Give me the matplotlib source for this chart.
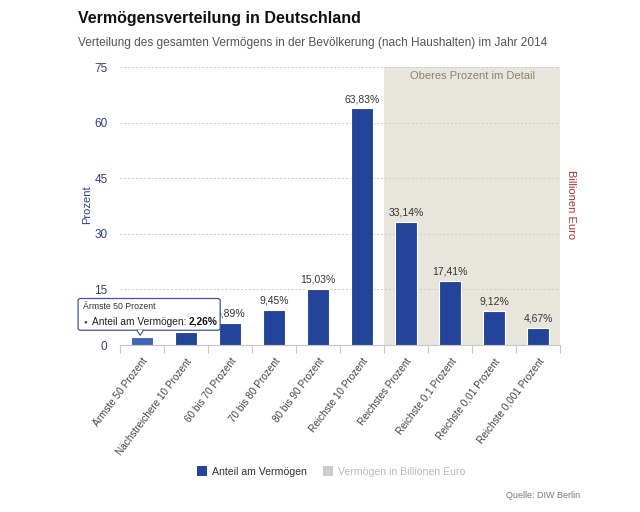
import matplotlib.pyplot as plt
from matplotlib.patches import FancyBboxPatch, Polygon

categories = ["Ärmste 50 Prozent", "Nächstreichere 10 Prozent", "60 bis 70 Prozent",
              "70 bis 80 Prozent", "80 bis 90 Prozent", "Reichste 10 Prozent",
              "Reichstes Prozent", "Reichste 0,1 Prozent", "Reichste 0,01 Prozent",
              "Reichste 0,001 Prozent"]
anteil = [2.26, 3.54, 5.89, 9.45, 15.03, 63.83, 33.14, 17.41, 9.12, 4.67]
labels = ["2,26%", "3,54%", "5,89%", "9,45%", "15,03%", "63,83%", "33,14%", "17,41%", "9,12%", "4,67%"]
yticks = [0, 15, 30, 45, 60, 75]

blue = "#24449a"
axis_blue = "#2e3f86"

plt.rcParams['font.family'] = ['Liberation Sans', 'DejaVu Sans']

fig = plt.figure(figsize=(6.4, 5.12), dpi=100)
ax = fig.add_axes([0.1875, 0.326, 0.6875, 0.543])

x = list(range(len(categories)))
colors = [blue] * len(categories)
colors[0] = "#4263b5"  # hovered bar
ax.axvspan(5.5, 9.5, color="#e8e5dd", zorder=0, lw=0)
ax.bar(x, anteil, width=0.5, color=colors, edgecolor="white", linewidth=0.8, zorder=3)

# labels of the first two bars sit under the tooltip in the reference
for i, (v, lab) in enumerate(zip(anteil, labels)):
    if i < 2:
        continue
    ax.text(i, v + 1.2, lab, ha="center", va="bottom", fontsize=7.5, color="#333333", zorder=4)

ax.set_xlim(-0.5, 9.5)
ax.set_ylim(0, 75)
ax.set_yticks(yticks)
ax.tick_params(axis="y", length=0, pad=9, labelsize=8.5, labelcolor=axis_blue)
ax.yaxis.grid(True, linestyle=(0, (2, 2)), color="#cccccc", linewidth=0.7, zorder=1)
ax.set_axisbelow(True)

ax.set_xticks([i - 0.5 for i in range(11)], minor=False)
ax.set_xticklabels([])
ax.tick_params(axis="x", length=6, color="#c8c8c8", width=0.8)
ax.set_xticks(x, minor=True)
ax.set_xticklabels(categories, minor=True, rotation=53, ha="right", rotation_mode="anchor",
                   fontsize=7.2, color="#444444")
ax.tick_params(axis="x", which="minor", length=0, pad=8)

for s in ["top", "right", "left"]:
    ax.spines[s].set_visible(False)
ax.spines["bottom"].set_color("#c8c8c8")

ax.text(7.5, 74, "Oberes Prozent im Detail", ha="center", va="top", fontsize=8, color="#8a8468")
fig.text(0.136, 0.6, "Prozent", rotation=90, ha="center", va="center", fontsize=8, color=axis_blue)
fig.text(0.892, 0.6, "Billionen Euro", rotation=270, ha="center", va="center", fontsize=8, color="#b03030")

fig.text(0.122, 0.963, "Vermögensverteilung in Deutschland", fontsize=11.5, fontweight="bold",
         color="#111111", va="center")
fig.text(0.122, 0.916, "Verteilung des gesamten Vermögens in der Bevölkerung (nach Haushalten) im Jahr 2014",
         fontsize=8.6, color="#555555", va="center")

# tooltip
tip = FancyBboxPatch((0.122, 0.355), 0.222, 0.062, boxstyle="round,pad=0,rounding_size=0.004",
                     transform=fig.transFigure, facecolor="white", edgecolor="#3a56a8", lw=0.9, zorder=10)
fig.patches.append(tip)
arrow = Polygon([[0.214, 0.3555], [0.224, 0.3555], [0.219, 0.345]], closed=True, transform=fig.transFigure,
                facecolor="white", edgecolor="#3a56a8", lw=0.9, zorder=11)
fig.patches.append(arrow)
fig.patches.append(Polygon([[0.2145, 0.3565], [0.2235, 0.3565], [0.219, 0.348]], closed=True,
                           transform=fig.transFigure, facecolor="white", edgecolor="none", zorder=12))
fig.text(0.129, 0.401, "Ärmste 50 Prozent", fontsize=6.3, color="#333333", va="center", zorder=13)
fig.text(0.131, 0.372, "●", fontsize=4.5, color=axis_blue, va="center", zorder=13)
t = fig.text(0.143, 0.372, "Anteil am Vermögen: ", fontsize=7.3, color="#222222", va="center", zorder=13)
fig.canvas.draw()
bb = t.get_window_extent().transformed(fig.transFigure.inverted())
fig.text(bb.x1, 0.372, "2,26%", fontsize=7.3, fontweight="bold", color="#111111", va="center", zorder=13)

# legend
fig.patches.append(plt.Rectangle((0.308, 0.07), 0.016, 0.02, transform=fig.transFigure,
                                 facecolor=blue, edgecolor="none"))
fig.text(0.331, 0.079, "Anteil am Vermögen", fontsize=7.6, color="#333333", va="center")
fig.patches.append(plt.Rectangle((0.505, 0.07), 0.016, 0.02, transform=fig.transFigure,
                                 facecolor="#cccccc", edgecolor="none"))
fig.text(0.528, 0.079, "Vermögen in Billionen Euro", fontsize=7.6, color="#bbbbbb", va="center")
fig.text(0.906, 0.033, "Quelle: DIW Berlin", fontsize=6.5, color="#777777", ha="right", va="center")

fig.savefig("out.png", dpi=100, facecolor="white")
